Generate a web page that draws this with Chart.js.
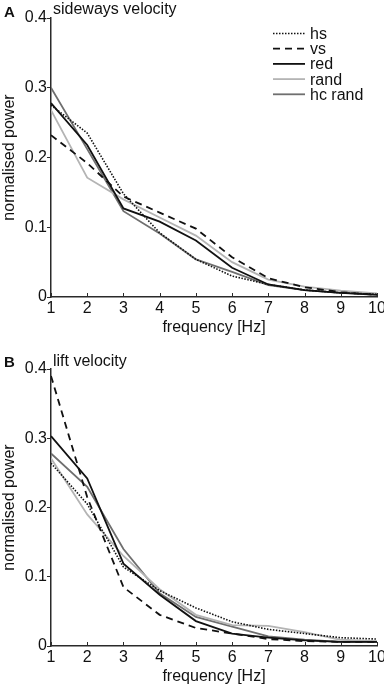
<!DOCTYPE html>
<html>
<head>
<meta charset="utf-8">
<script src="https://cdn.jsdelivr.net/npm/chart.js@4"></script>
<style>
  html, body { margin: 0; padding: 0; background: #fff; }
  body { width: 384px; height: 687px; position: relative; overflow: hidden; }
  canvas { position: absolute; left: 0; }
  #cA { top: 0; }
  #cB { top: 337px; }
</style>
</head>
<body>
<canvas id="cA" width="384" height="337"></canvas>
<canvas id="cB" width="384" height="350"></canvas>
<script>
// ---- data ----
const frequencies = [1, 2, 3, 4, 5, 6, 7, 8, 9, 10];
const seriesNames = ['hs', 'vs', 'red', 'rand', 'hc rand'];
const yTicks = [0, 0.1, 0.2, 0.3, 0.4];

// Panel A: sideways velocity
const sidewaysHs     = [0.275, 0.235, 0.148, 0.092, 0.054, 0.030, 0.018, 0.010, 0.006, 0.004];
const sidewaysVs     = [0.232, 0.192, 0.144, 0.121, 0.098, 0.057, 0.027, 0.014, 0.007, 0.003];
const sidewaysRed    = [0.278, 0.218, 0.127, 0.108, 0.081, 0.042, 0.018, 0.010, 0.006, 0.003];
const sidewaysRand   = [0.268, 0.171, 0.140, 0.114, 0.088, 0.050, 0.025, 0.015, 0.009, 0.005];
const sidewaysHcRand = [0.300, 0.212, 0.123, 0.091, 0.054, 0.036, 0.017, 0.010, 0.006, 0.004];

// Panel B: lift velocity
const liftHs     = [0.264, 0.205, 0.114, 0.080, 0.055, 0.035, 0.024, 0.018, 0.012, 0.010];
const liftVs     = [0.390, 0.215, 0.085, 0.045, 0.026, 0.018, 0.010, 0.007, 0.006, 0.006];
const liftRed    = [0.303, 0.242, 0.119, 0.074, 0.036, 0.018, 0.012, 0.008, 0.006, 0.006];
const liftRand   = [0.271, 0.190, 0.130, 0.082, 0.045, 0.030, 0.029, 0.020, 0.009, 0.007];
const liftHcRand = [0.278, 0.230, 0.140, 0.076, 0.042, 0.028, 0.014, 0.009, 0.006, 0.006];

// ---- styles ----
const FONT = '"Liberation Sans", Arial, Helvetica, sans-serif';
const AXIS = '#2a2a2a';
const styles = [
  { borderColor: '#111', borderWidth: 1.6, borderDash: [1.5, 1.5] },
  { borderColor: '#111', borderWidth: 1.8, borderDash: [7, 5] },
  { borderColor: '#111', borderWidth: 1.8, borderDash: [] },
  { borderColor: '#b4b4b4', borderWidth: 1.8, borderDash: [] },
  { borderColor: '#6f6f6f', borderWidth: 1.8, borderDash: [] }
];

function makeDatasets(arrs) {
  return arrs.map((vals, i) => Object.assign({
    label: seriesNames[i],
    data: frequencies.map((f, k) => ({ x: f, y: vals[k] })),
    pointRadius: 0,
    tension: 0,
    fill: false
  }, styles[i]));
}

// inward x tick marks
const innerXTicks = {
  id: 'innerXTicks',
  afterDraw(chart) {
    const xs = chart.scales.x, area = chart.chartArea, ctx = chart.ctx;
    ctx.save();
    ctx.strokeStyle = AXIS;
    ctx.lineWidth = 1;
    frequencies.forEach(f => {
      const px = Math.round(xs.getPixelForValue(f)) + 0.5;
      ctx.beginPath();
      ctx.moveTo(px, area.bottom);
      ctx.lineTo(px, area.bottom - 4);
      ctx.stroke();
    });
    ctx.restore();
  }
};

// panel letter + title
const panelLabel = {
  id: 'panelLabel',
  afterDraw(chart, args, opts) {
    const ctx = chart.ctx;
    ctx.save();
    ctx.fillStyle = '#111';
    ctx.textBaseline = 'alphabetic';
    ctx.textAlign = 'left';
    ctx.font = 'bold 15px ' + FONT;
    ctx.fillText(opts.letter, 4, opts.letterBaseline);
    ctx.font = '16px ' + FONT;
    ctx.fillText(opts.title, 53, opts.baseline);
    ctx.restore();
  }
};

// legend inside the plot
const innerLegend = {
  id: 'innerLegend',
  afterDraw(chart, args, opts) {
    if (!opts.show) return;
    const ctx = chart.ctx;
    ctx.save();
    ctx.font = '16px ' + FONT;
    ctx.textBaseline = 'middle';
    ctx.textAlign = 'left';
    chart.data.datasets.forEach((ds, i) => {
      const y = opts.top + i * opts.step;
      ctx.strokeStyle = ds.borderColor;
      ctx.lineWidth = ds.borderWidth;
      ctx.setLineDash(ds.borderDash || []);
      ctx.beginPath();
      ctx.moveTo(opts.x0, y);
      ctx.lineTo(opts.x1, y);
      ctx.stroke();
      ctx.setLineDash([]);
      ctx.fillStyle = '#111';
      ctx.fillText(ds.label, opts.x1 + 5, y + 1);
    });
    ctx.restore();
  }
};

function makeChart(id, arrs, cfg) {
  return new Chart(document.getElementById(id), {
    type: 'line',
    data: { datasets: makeDatasets(arrs) },
    options: {
      responsive: false,
      animation: false,
      devicePixelRatio: 1,
      layout: { padding: { top: cfg.padTop, right: 7, bottom: cfg.padBottom, left: 0 } },
      plugins: {
        legend: { display: false },
        tooltip: { enabled: false },
        panelLabel: { letter: cfg.letter, title: cfg.title, baseline: cfg.baseline, letterBaseline: cfg.letterBaseline },
        innerLegend: cfg.legend
      },
      scales: {
        x: {
          type: 'linear',
          min: 1, max: 10,
          grid: { display: false, drawTicks: false },
          border: { display: true, color: AXIS, width: 1.5 },
          ticks: {
            stepSize: 1, padding: 2, color: '#111', maxRotation: 0,
            font: { family: FONT, size: 16 },
            callback: v => String(v)
          },
          title: {
            display: true, text: 'frequency [Hz]', color: '#111',
            font: { family: FONT, size: 16 },
            padding: { top: 0, bottom: 0 }
          },
          afterFit(s) { s.height = 40; s.paddingLeft = 0; s.paddingRight = 0; }
        },
        y: {
          min: 0, max: 0.4,
          afterBuildTicks(s) { s.ticks = yTicks.map(v => ({ value: v })); },
          grid: { drawOnChartArea: false, drawTicks: true, tickLength: 4, color: AXIS, lineWidth: 1 },
          border: { display: true, color: AXIS, width: 1.5 },
          ticks: {
            padding: 0, color: '#111',
            font: { family: FONT, size: 16 },
            callback: v => String(Math.round(v * 10) / 10)
          },
          title: {
            display: true, text: 'normalised power', color: '#111',
            font: { family: FONT, size: 16 },
            padding: { top: 0, bottom: 0 }
          },
          afterFit(s) { s.width = 51; }
        }
      }
    },
    plugins: [innerXTicks, panelLabel, innerLegend]
  });
}

makeChart('cA',
  [sidewaysHs, sidewaysVs, sidewaysRed, sidewaysRand, sidewaysHcRand],
  { padTop: 18, padBottom: 0, letter: 'A', title: 'sideways velocity', baseline: 13.5, letterBaseline: 16.5,
    legend: { show: true, x0: 273, x1: 305, top: 33.5, step: 15.2 } });

makeChart('cB',
  [liftHs, liftVs, liftRed, liftRand, liftHcRand],
  { padTop: 32, padBottom: 1, letter: 'B', title: 'lift velocity', baseline: 28.5, letterBaseline: 29.5,
    legend: { show: false } });
</script>
</body>
</html>
